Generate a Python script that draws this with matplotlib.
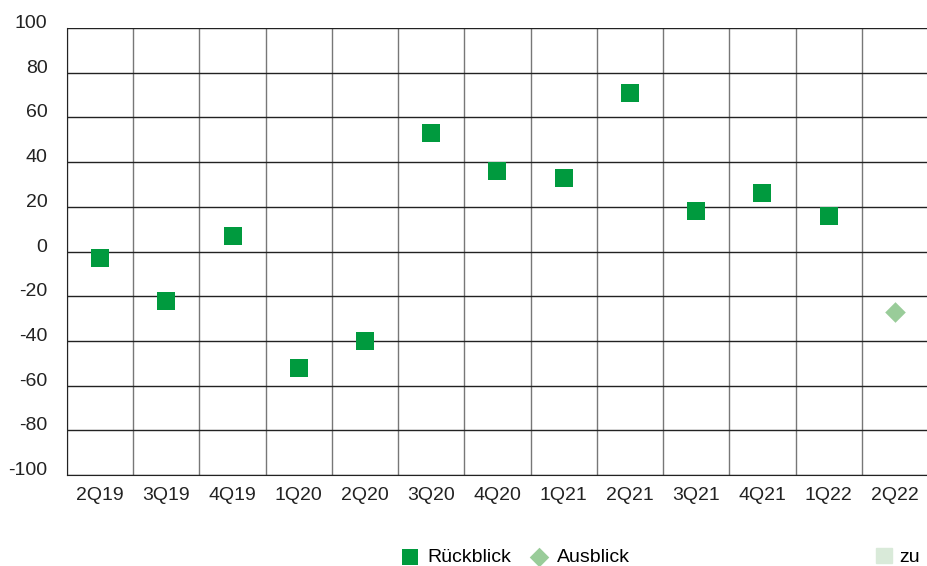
import numpy as np
import matplotlib
matplotlib.use('Agg')
import matplotlib.pyplot as plt
from matplotlib.patches import Patch

# Quartale und Werte (Saldo in Prozentpunkten)
quartale = ['2Q19', '3Q19', '4Q19', '1Q20', '2Q20', '3Q20', '4Q20',
            '1Q21', '2Q21', '3Q21', '4Q21', '1Q22', '2Q22']
rueckblick = [-3, -22, 7, -52, -40, 53, 36, 33, 71, 18, 26, 16, None]
ausblick = [None, None, None, None, None, None, None, None, None, None, None, None, -27]

plt.rcParams['font.family'] = ['Liberation Sans', 'DejaVu Sans']
plt.rcParams['axes.unicode_minus'] = False

fig = plt.figure(figsize=(9.28, 5.66), dpi=100)
ax = fig.add_axes([67/928, 1-475/566, 1-67/928, (475-28)/566])

x = np.arange(len(quartale))
xr = [i for i in x if rueckblick[i] is not None]
yr = [rueckblick[i] for i in xr]
xa = [i for i in x if ausblick[i] is not None]
ya = [ausblick[i] for i in xa]

sq = ax.scatter(xr, yr, marker='s', s=150, color='#009a3e', zorder=3, linewidths=0)
di = ax.scatter(xa, ya, marker='D', s=110, color='#99cc99', zorder=3, linewidths=0)

ax.set_xlim(-0.5, len(quartale)-0.5)
ax.set_ylim(-100, 100)
ax.set_yticks(np.arange(-100, 101, 20))
ax.set_xticks(x)
ax.set_xticklabels(quartale)
ax.set_xticks(np.arange(-0.5, len(quartale), 1), minor=True)

ax.grid(axis='y', which='major', color='#222222', linewidth=1)
ax.grid(axis='x', which='minor', color='#777777', linewidth=1)
ax.set_axisbelow(True)

for s in ['top', 'right']:
    ax.spines[s].set_visible(False)
ax.spines['left'].set_color('#222222')
ax.spines['bottom'].set_color('#222222')

ax.tick_params(axis='both', which='both', length=0, labelsize=14, colors='#222222')
ax.tick_params(axis='x', pad=9)
ax.tick_params(axis='y', pad=14)
for lab in ax.get_yticklabels():
    lab.set_verticalalignment('baseline')

fig.legend([sq, di], ['Rückblick', 'Ausblick'], loc='center left',
           bbox_to_anchor=(400/928, 1-557/566), ncol=2, frameon=False,
           fontsize=14, handlelength=1.0, handletextpad=0.4,
           columnspacing=0.95, markerscale=0.95, borderpad=0, borderaxespad=0)
fig.legend([Patch(color='#d9ead9')], ['zu'], loc='center left',
           bbox_to_anchor=(876/928, 1-557/566), frameon=False, fontsize=14,
           handlelength=0.8, handleheight=0.8, handletextpad=0.4,
           borderpad=0, borderaxespad=0)

fig.savefig('out.png', dpi=100)
